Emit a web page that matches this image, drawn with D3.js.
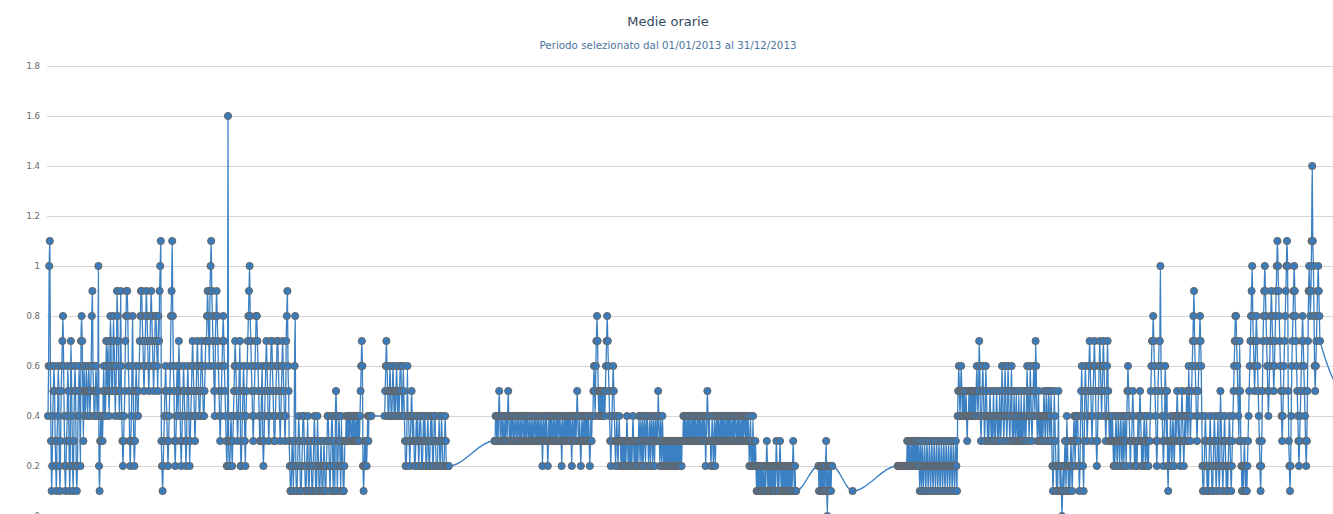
<!DOCTYPE html>
<html>
<head>
<meta charset="utf-8">
<script src="https://cdn.jsdelivr.net/npm/d3@7"></script>
<style>
  body { margin: 0; background: #fff; overflow: hidden; }
  svg { display: block; }
</style>
</head>
<body>
<svg id="chart" width="1333" height="514"></svg>
<script>
// Hourly means, one reading every 4 hours. Each character is one reading in tenths:
// digits 0-9 are 0.0-0.9, letters continue from A = 1.0 (B = 1.1, ... G = 1.6).
// Every string covers five days (30 readings).
const titleText = "Medie orarie";
const subtitleText = "Periodo selezionato dal 01/01/2013 al 31/12/2013";

const yTickValues = [0, 0.2, 0.4, 0.6, 0.8, 1, 1.2, 1.4, 1.6, 1.8];
const yTickLabels = ["0", "0.2", "0.4", "0.6", "0.8", "1", "1.2", "1.4", "1.6", "1.8"];

// Start of each uninterrupted run of readings (UTC)
const runStarts = [
  "2013-01-01T00:00",
  "2013-04-04T12:00",
  "2013-05-05T00:00",
  "2013-08-03T00:00",
  "2013-08-12T12:00",
  "2013-08-25T00:00",
  "2013-12-31T12:00"
];

const readingsJanMar = [
  "46AB63124565321346521356786421", "234653127642135652124564278753",
  "654565456545689654456545A21343", "435645476575468756587645698754",
  "596432345789986532346853235654", "456789987656789876567898765678",
  "8765879AB321234565432345689B86", "532346547653234565432356542345",
  "676543456765445676544567789876", "9AB987654789876543456787654322",
  "G32234323456765434567223456532", "456789A87654345678876543345632",
  "345676543456776543345677654345", "676543478965321123213682112343",
  "211234432112341123321123431214", "321123211232112344321234412314",
  "541234321423112334343434433434", "343343434345676212323234344444"
];
const readingsApr = [
  "456765445654456545", "456545456654465432", "236443234543432234",
  "343234432234343223", "432234342234432223", "342234322234322222"
];
const readingsMayJul = [
  "334434345433443343344345433434", "434334433443343344334343443343",
  "343343344334343343342343343432", "343434334343343434433423433434",
  "343434343243343434543343234334", "343434343234344565467875454545",
  "454545678765432345654323432343", "323232323234323232323432323232",
  "343243242343243432342343243243", "343543243243232323232323232323",
  "232323232323233434343343434334", "343434334343434334343423454343",
  "323432342343434334343434334343", "434343343434433434343343434434",
  "343432342324232321212121212121", "121232121212121212123212123212",
  "121212121212121212321211"
];
const readingsAugEarly = ["212121212121231021212122"];
const readingsAugMid = ["1"];
const readingsAugDec = [
  "222222222222222232323223232323", "232323213213212321232123212321",
  "232123212321232123212321232123", "212321232145654565454544543445",
  "454545454545654576434565434654", "343454343453434543435434654346",
  "543465434563435434534353435343", "453435645346543456547643453434",
  "343454345434543453212543212152", "212101212321432121232123432434",
  "432124564213565434567654345676", "532345676545676543467543434343",
  "232343234323432342343245654323", "345432323234345432323432342323",
  "345677876543235677A65432346535", "213234323432343454343234543234",
  "345436543456789765434567876421", "123432121234321123432123421254",
  "321234321212343212345678876543", "753212123212123456789A87656787",
  "654321235789A98765456789876567", "89ABA9876543456789ABA532124678",
  "9A987654323456787654323579A989", "BEBA8656789A987"
];
const readingsDecLast = ["4"];

const runs = [readingsJanMar, readingsApr, readingsMayJul, readingsAugEarly,
              readingsAugMid, readingsAugDec, readingsDecLast];

const parseTime = d3.utcParse("%Y-%m-%dT%H:%M");
const stepMs = 4 * 3600 * 1000;

function decode(ch) {
  const c = ch.charCodeAt(0);
  return (c >= 65 ? 10 + c - 65 : c - 48) / 10;
}

const points = [];
runs.forEach((chunks, r) => {
  const t0 = parseTime(runStarts[r]).getTime();
  chunks.join("").split("").forEach((ch, i) => {
    points.push({ t: new Date(t0 + i * stepMs), v: decode(ch) });
  });
});

// Layout
const W = 1333, H = 514;
const plotLeft = 48, plotRight = 1362;
const font = "'DejaVu Sans', Verdana, sans-serif";
const svg = d3.select("#chart");

const x = d3.scaleUtc()
  .domain([parseTime("2013-01-01T00:00"), parseTime("2014-01-01T00:00")])
  .range([plotLeft, plotRight]);
const y = d3.scaleLinear().domain([0, 1.8]).range([516, 66]);

// Title and subtitle
svg.append("text")
  .attr("x", 668).attr("y", 26)
  .attr("text-anchor", "middle")
  .attr("font-family", font)
  .attr("font-size", 13)
  .attr("fill", "#34495e")
  .text(titleText);
svg.append("text")
  .attr("x", 668).attr("y", 49)
  .attr("text-anchor", "middle")
  .attr("font-family", font)
  .attr("font-size", 10.3)
  .attr("fill", "#4d759e")
  .text(subtitleText);

// Y axis with horizontal grid lines
const yAxis = d3.axisLeft(y)
  .tickValues(yTickValues)
  .tickFormat((d, i) => yTickLabels[i])
  .tickSize(-(W - plotLeft + 1))
  .tickPadding(7);

const gy = svg.append("g")
  .attr("transform", `translate(${plotLeft - 1},0)`)
  .call(yAxis);
gy.select(".domain").remove();
gy.selectAll(".tick line").attr("stroke", "#d6d6d6").attr("stroke-width", 1);
gy.selectAll(".tick text")
  .attr("fill", "#666")
  .attr("font-family", font)
  .attr("font-size", 8.5);

// Series line
const line = d3.line()
  .x(d => x(d.t))
  .y(d => y(d.v))
  .curve(d3.curveMonotoneX);

svg.append("path")
  .datum(points)
  .attr("d", line)
  .attr("fill", "none")
  .attr("stroke", "#3a80c2")
  .attr("stroke-width", 1.3);

// Markers
svg.append("g")
  .selectAll("circle")
  .data(points)
  .join("circle")
  .attr("cx", d => x(d.t))
  .attr("cy", d => y(d.v))
  .attr("r", 3.6)
  .attr("fill", "#3a7cbb")
  .attr("stroke", "#666")
  .attr("stroke-width", 1);
</script>
</body>
</html>
